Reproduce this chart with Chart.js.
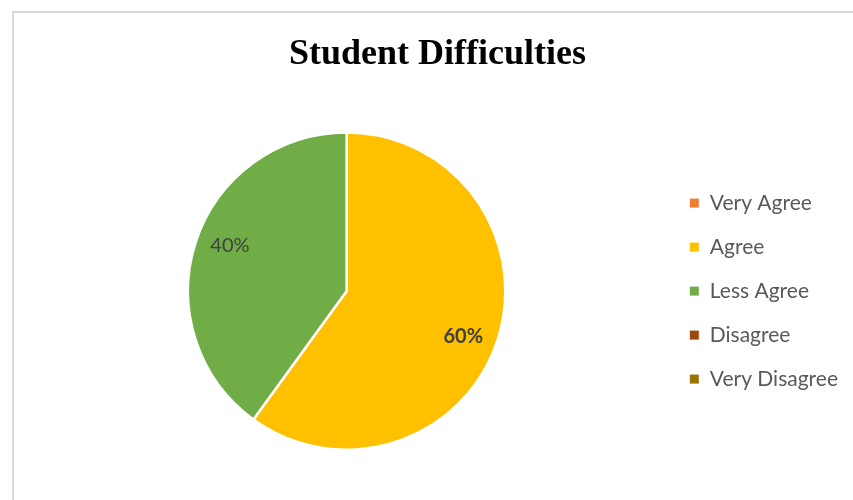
<!DOCTYPE html>
<html>
<head>
<meta charset="utf-8">
<title>Student Difficulties</title>
<script src="https://cdn.jsdelivr.net/npm/chart.js@4.4.1/dist/chart.umd.min.js"></script>
<style>
  html, body { margin: 0; padding: 0; background: #fff; overflow: hidden; }
  body { width: 853px; height: 500px; position: relative; }
  #box {
    position: absolute; left: 12px; top: 11px;
    width: 854px; height: 500px;
    border-left: 2px solid #d9d9d9; border-top: 2px solid #d9d9d9;
    box-sizing: border-box;
  }
</style>
</head>
<body>
<div id="box"><canvas id="difficulties"></canvas></div>
<script>
// 응답 분포 (%)
const categories = ['Very Agree', 'Agree', 'Less Agree', 'Disagree', 'Very Disagree'];
const percents = [0, 60, 40, 0, 0];
const sliceColors = ['#ED7D31', '#FFC000', '#70AD47', '#9E480E', '#997300'];

// 조각 안쪽에 퍼센트 표시
const pctLabels = {
    id: 'pctLabels',
    afterDatasetsDraw(chart) {
        const { ctx } = chart;
        const meta = chart.getDatasetMeta(0);
        meta.data.forEach((arc, i) => {
            const v = chart.data.datasets[0].data[i];
            if (!v) return;
            const mid = (arc.startAngle + arc.endAngle) / 2 + 0.06;
            const r = arc.outerRadius * 0.79;
            const x = arc.x + Math.cos(mid) * r;
            const y = arc.y + Math.sin(mid) * r;
            ctx.save();
            ctx.font = (i === 1 ? 'bold ' : '') + '20px Lato, "Open Sans", sans-serif';
            ctx.fillStyle = '#404040';
            ctx.textAlign = 'center';
            ctx.textBaseline = 'middle';
            ctx.fillText(v + '%', x, y);
            ctx.restore();
        });
    }
};

// 범례를 차트 영역 세로 가운데로
const centerLegend = {
    id: 'centerLegend',
    afterLayout(chart) {
        const lg = chart.legend;
        if (!lg) return;
        lg.top = chart.chartArea.top;
        lg.bottom = chart.chartArea.bottom;
        lg.height = lg.bottom - lg.top;
    }
};

const ctx = document.getElementById('difficulties').getContext('2d');
const chart = new Chart(ctx, {
    type: 'pie',
    data: {
        labels: categories,
        datasets: [{
            data: percents,
            backgroundColor: sliceColors,
            borderColor: '#ffffff',
            borderWidth: 2.5
        }]
    },
    options: {
        responsive: true,
        maintainAspectRatio: false,
        animation: false,
        layout: {
            padding: { top: 0, bottom: 60, left: 13, right: 18 }
        },
        plugins: {
            title: {
                display: true,
                text: 'Student Difficulties',
                color: '#000000',
                font: { family: '"Liberation Serif", "Times New Roman", serif', size: 36, weight: 'bold' },
                padding: { top: 20, bottom: 55 }
            },
            legend: {
                position: 'right',
                labels: {
                    boxWidth: 10,
                    boxHeight: 10,
                    padding: 23,
                    color: '#595959',
                    font: { family: 'Lato, "Open Sans", sans-serif', size: 21 },
                    generateLabels(chart) {
                        const items = Chart.overrides.pie.plugins.legend.labels.generateLabels(chart);
                        items.forEach(it => { it.lineWidth = 1; it.strokeStyle = '#ffffff'; });
                        return items;
                    }
                }
            },
            tooltip: { enabled: false }
        }
    },
    plugins: [pctLabels, centerLegend]
});
</script>
</body>
</html>
